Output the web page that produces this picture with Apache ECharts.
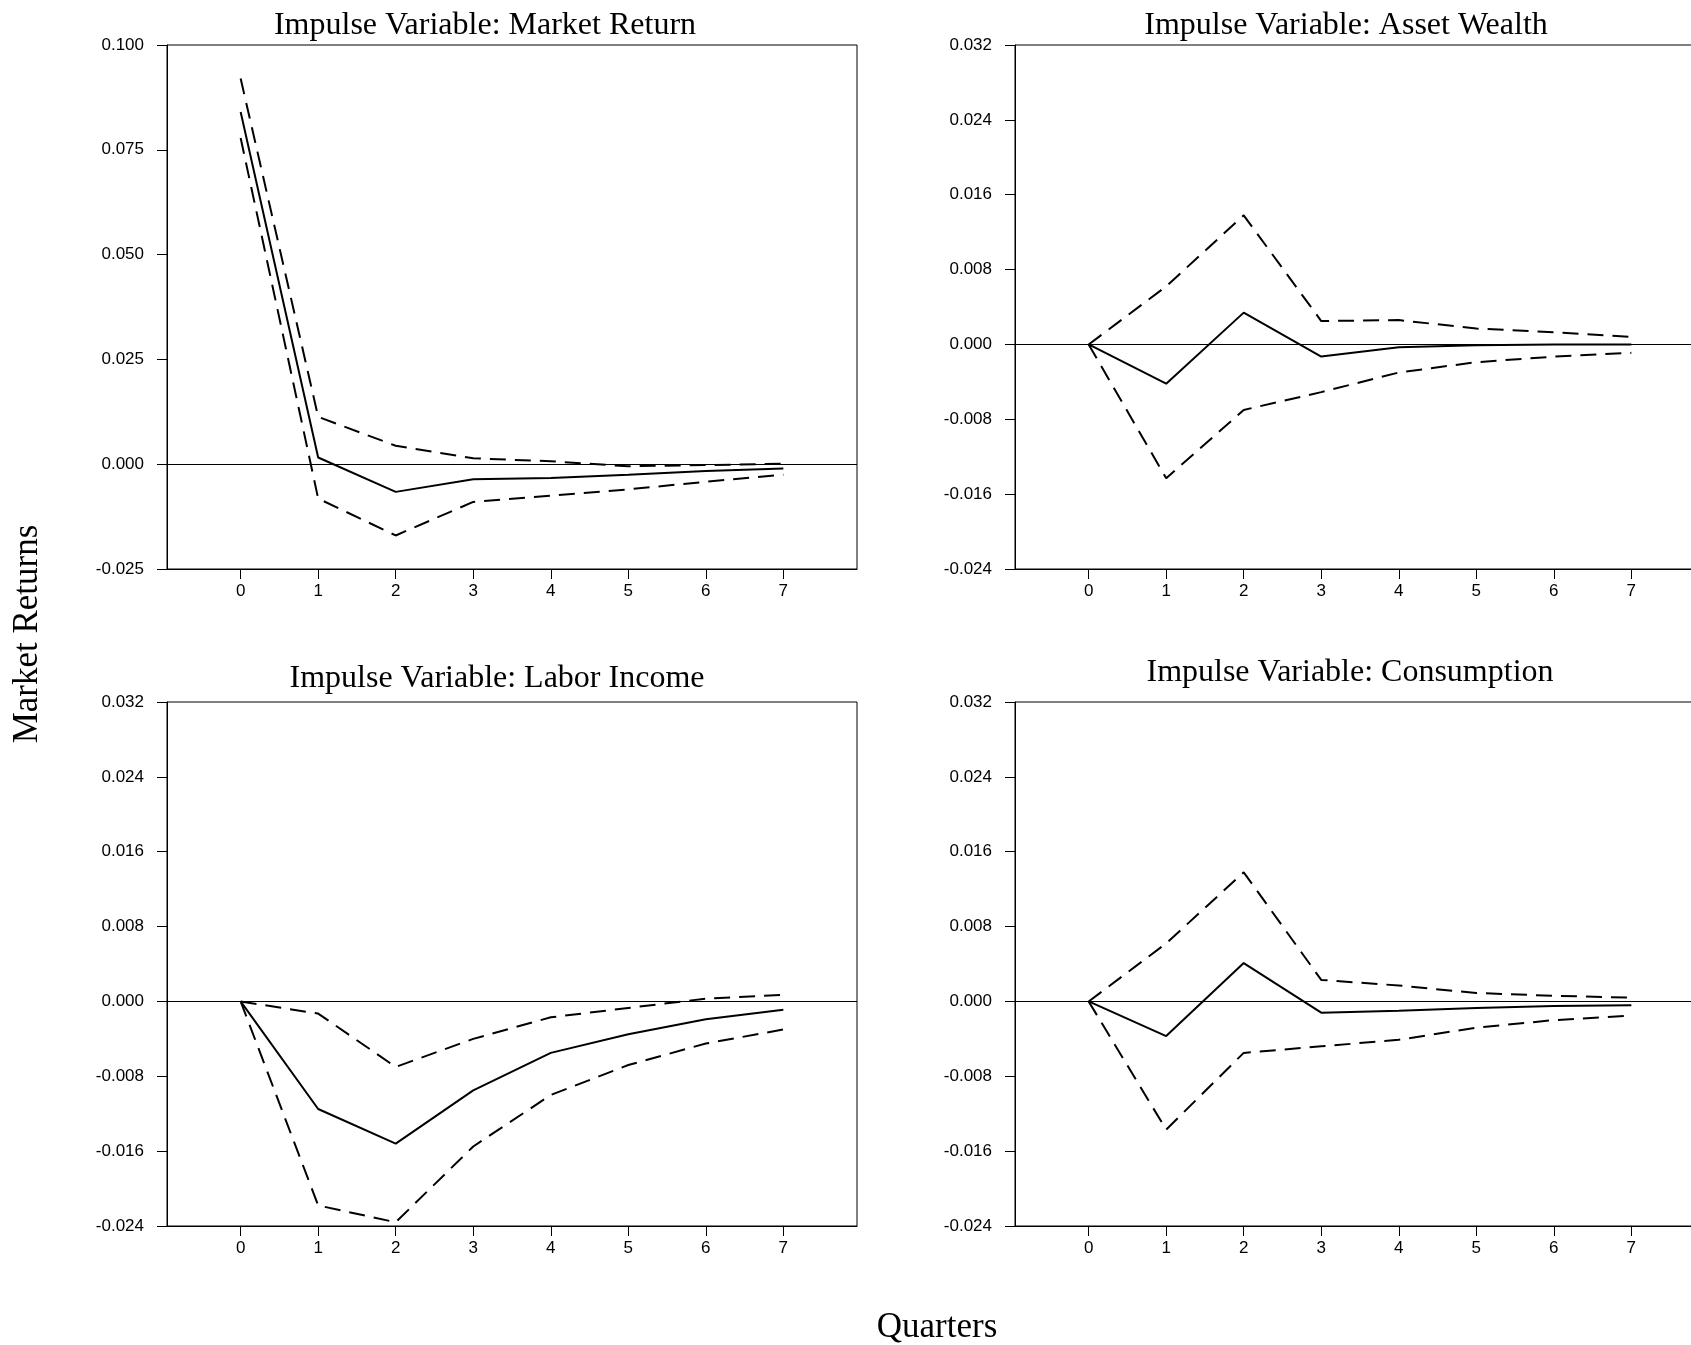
<!DOCTYPE html>
<html>
<head>
<meta charset="utf-8">
<script src="https://cdn.jsdelivr.net/npm/echarts@6/dist/echarts.min.js"></script>
<style>
html,body{margin:0;padding:0;background:#fff;overflow:hidden;width:1691px;height:1345px;}
#chart{width:1730px;height:1345px;}
</style>
</head>
<body>
<div id="chart"></div>
<script>
// ---- data ----
var quarters = [0, 1, 2, 3, 4, 5, 6, 7];
var xTickLabels = ['0', '1', '2', '3', '4', '5', '6', '7'];
var panelTitles = [
  'Impulse Variable: Market Return',
  'Impulse Variable: Asset Wealth',
  'Impulse Variable: Labor Income',
  'Impulse Variable: Consumption'
];
var yAxisName = 'Market Returns';
var xAxisName = 'Quarters';

// Market Return impulse
var mktResp  = [0.0840, 0.0016, -0.0066, -0.0036, -0.0033, -0.0025, -0.0016, -0.0010];
var mktUpper = [0.0920, 0.0113, 0.0044, 0.0014, 0.0007, -0.0005, -0.0002, 0.0001];
var mktLower = [0.0778, -0.0082, -0.0170, -0.0090, -0.0075, -0.0060, -0.0042, -0.0025];

// Asset Wealth impulse
var awResp  = [0.0000, -0.0042, 0.0034, -0.0013, -0.0003, -0.0001, 0.0000, 0.0000];
var awUpper = [0.0000, 0.0062, 0.0138, 0.0025, 0.0026, 0.0017, 0.0013, 0.0008];
var awLower = [0.0000, -0.0143, -0.0070, -0.0051, -0.0030, -0.0019, -0.0013, -0.0009];

// Labor Income impulse
var liResp  = [0.0000, -0.0115, -0.0152, -0.0095, -0.0055, -0.0035, -0.0019, -0.0009];
var liUpper = [0.0000, -0.0013, -0.0070, -0.0040, -0.0017, -0.0007, 0.0003, 0.0007];
var liLower = [0.0000, -0.0218, -0.0236, -0.0155, -0.0100, -0.0068, -0.0045, -0.0030];

// Consumption impulse
var coResp  = [0.0000, -0.0037, 0.0041, -0.0012, -0.0010, -0.0007, -0.0005, -0.0004];
var coUpper = [0.0000, 0.0062, 0.0138, 0.0023, 0.0017, 0.0009, 0.0006, 0.0004];
var coLower = [0.0000, -0.0137, -0.0055, -0.0048, -0.0041, -0.0028, -0.0020, -0.0015];

var yTopLeft = {min: -0.025, max: 0.100, interval: 0.025};
var yOthers  = {min: -0.024, max: 0.032, interval: 0.008};

// ---- build ----
var grids = [
  {left: 167, top: 45, width: 690, height: 524},
  {left: 1015, top: 45, width: 690, height: 524},
  {left: 167, top: 702, width: 690, height: 524},
  {left: 1015, top: 702, width: 690, height: 524}
];
var yRanges = [yTopLeft, yOthers, yOthers, yOthers];
var panels = [
  [mktResp, mktUpper, mktLower],
  [awResp, awUpper, awLower],
  [liResp, liUpper, liLower],
  [coResp, coUpper, coLower]
];
var titlePos = [[485, 26], [1346, 26], [497, 679], [1350, 673]];

function pairs(arr) { return quarters.map(function (q, i) { return [q, arr[i]]; }); }
function fmt(v) { if (Math.abs(v) < 1e-9) return '0.000'; return v.toFixed(3); }

var labelFont = {color: '#000', fontFamily: 'Liberation Sans, Arial, sans-serif', fontSize: 17};

var xAxes = [], yAxes = [], series = [];
grids.forEach(function (g, k) {
  g.show = true; g.borderColor = '#000'; g.borderWidth = 1; g.backgroundColor = 'transparent';
  xAxes.push({
    type: 'value', gridIndex: k, min: -0.95, max: 7.95,
    axisLine: {show: true, onZero: false, lineStyle: {color: '#000', width: 1}},
    axisTick: {show: true, length: 10, inside: false, customValues: quarters, lineStyle: {color: '#000'}},
    axisLabel: Object.assign({margin: 14, customValues: quarters,
      formatter: function (v) { return xTickLabels[quarters.indexOf(Math.round(v))]; }}, labelFont),
    splitLine: {show: false}
  });
  var r = yRanges[k];
  yAxes.push({
    type: 'value', gridIndex: k, min: r.min, max: r.max, interval: r.interval,
    axisLine: {show: true, onZero: false, lineStyle: {color: '#000', width: 1}},
    axisTick: {show: true, length: 10, inside: false, lineStyle: {color: '#000'}},
    axisLabel: Object.assign({margin: 23, formatter: fmt}, labelFont),
    splitLine: {show: false}
  });
  var p = panels[k];
  series.push({
    type: 'line', xAxisIndex: k, yAxisIndex: k, data: pairs(p[0]), symbol: 'none',
    lineStyle: {color: '#000', width: 2}, silent: true, animation: false, z: 3,
    markLine: {silent: true, symbol: 'none', label: {show: false}, animation: false,
      lineStyle: {color: '#000', width: 1, type: 'solid'}, data: [{yAxis: 0}]}
  });
  [p[1], p[2]].forEach(function (arr) {
    series.push({
      type: 'line', xAxisIndex: k, yAxisIndex: k, data: pairs(arr), symbol: 'none',
      lineStyle: {color: '#000', width: 2, type: [16, 9]}, silent: true, animation: false, z: 3
    });
  });
});

var graphics = panelTitles.map(function (t, k) {
  return {type: 'text', x: titlePos[k][0], y: titlePos[k][1], silent: true,
    style: {text: t, fill: '#000', font: '32px "Liberation Serif", "Times New Roman", serif',
      textAlign: 'center', textVerticalAlign: 'middle'}};
});
graphics.push({type: 'text', x: 28, y: 634, rotation: Math.PI / 2, silent: true,
  style: {text: yAxisName, fill: '#000', font: '35px "Liberation Serif", "Times New Roman", serif',
    textAlign: 'center', textVerticalAlign: 'middle'}});
graphics.push({type: 'text', x: 937, y: 1328, silent: true,
  style: {text: xAxisName, fill: '#000', font: '35px "Liberation Serif", "Times New Roman", serif',
    textAlign: 'center', textVerticalAlign: 'middle'}});

var chart = echarts.init(document.getElementById('chart'), null, {renderer: 'canvas'});
chart.setOption({
  animation: false,
  backgroundColor: '#fff',
  grid: grids,
  xAxis: xAxes,
  yAxis: yAxes,
  series: series,
  graphic: graphics
});
</script>
</body>
</html>
